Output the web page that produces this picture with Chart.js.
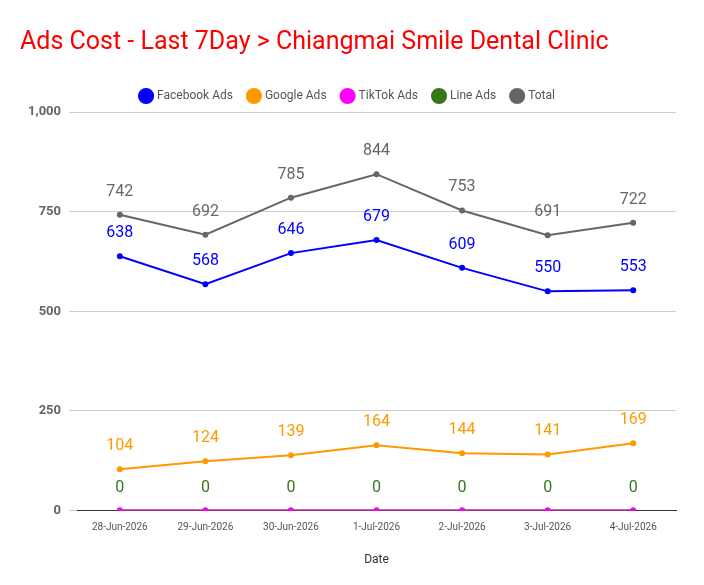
<!DOCTYPE html>
<html>
<head>
<meta charset="utf-8">
<script src="https://cdn.jsdelivr.net/npm/chart.js@4"></script>
<style>
  body { margin: 0; background: #fff; }
  #wrap { width: 704px; height: 585px; position: relative; }
</style>
</head>
<body>
<div id="wrap"><canvas id="adsChart"></canvas></div>
<script>
// Chart data
const dates = ['28-Jun-2026', '29-Jun-2026', '30-Jun-2026', '1-Jul-2026', '2-Jul-2026', '3-Jul-2026', '4-Jul-2026'];
const facebookAds = [638, 568, 646, 679, 609, 550, 553];
const googleAds = [104, 124, 139, 164, 144, 141, 169];
const tiktokAds = [0, 0, 0, 0, 0, 0, 0];
const lineAds = [0, 0, 0, 0, 0, 0, 0];
const totalCost = [742, 692, 785, 844, 753, 691, 722];
const yTicks = [0, 250, 500, 750, 1000];

// Draw value labels above points
const pointLabels = {
    id: 'pointLabels',
    afterDatasetsDraw(chart) {
        const ctx = chart.ctx;
        ctx.save();
        ctx.font = '16px Roboto';
        ctx.textAlign = 'center';
        ctx.textBaseline = 'middle';
        chart.data.datasets.forEach((ds, i) => {
            if (!ds.showLabels) return;
            const meta = chart.getDatasetMeta(i);
            ctx.fillStyle = ds.borderColor;
            meta.data.forEach((pt, j) => {
                ctx.fillText(String(ds.data[j]), pt.x, pt.y - 23);
            });
        });
        ctx.restore();
    }
};

function makeSet(label, data, color, showLabels) {
    return {
        label: label,
        data: data,
        borderColor: color,
        backgroundColor: color,
        borderWidth: 2,
        pointRadius: 2,
        pointHoverRadius: 3,
        tension: 0,
        showLabels: showLabels
    };
}

new Chart(document.getElementById('adsChart'), {
    type: 'line',
    data: {
        labels: dates,
        datasets: [
            makeSet('Facebook Ads', facebookAds, '#0000ff', true),
            makeSet('Google Ads', googleAds, '#ff9900', true),
            makeSet('TikTok Ads', tiktokAds, '#ff00ff', false),
            makeSet('Line Ads', lineAds, '#38761d', true),
            makeSet('Total', totalCost, '#666666', true)
        ]
    },
    options: {
        responsive: true,
        maintainAspectRatio: false,
        animation: false,
        layout: { padding: { left: 20, right: 28, top: 8, bottom: 14 } },
        scales: {
            x: {
                offset: true,
                grid: { display: false },
                border: { color: '#333333', width: 1 },
                ticks: { color: '#555555', font: { family: 'Roboto', size: 10 }, maxRotation: 0 },
                title: { display: true, text: 'Date', color: '#333333', font: { family: 'Roboto', size: 12 }, padding: { top: 16 } }
            },
            y: {
                min: 0,
                max: 1000,
                afterBuildTicks: axis => { axis.ticks = yTicks.map(v => ({ value: v })); },
                grid: { color: '#cccccc' },
                border: { display: false },
                ticks: { color: '#666666', font: { family: 'Roboto', size: 13, weight: 'bold' }, padding: 8 }
            }
        },
        plugins: {
            title: {
                display: true,
                text: 'Ads Cost - Last 7Day > Chiangmai Smile Dental Clinic',
                align: 'start',
                color: '#ff0000',
                font: { family: 'Roboto', size: 25, weight: 'normal' },
                padding: { top: 20, bottom: 16 }
            },
            legend: {
                position: 'top',
                labels: {
                    usePointStyle: true,
                    pointStyle: 'circle',
                    boxWidth: 10,
                    boxHeight: 10,
                    color: '#555555',
                    font: { family: 'Roboto', size: 12 },
                    padding: 16
                }
            },
            tooltip: { enabled: false }
        }
    },
    plugins: [pointLabels]
});
</script>
</body>
</html>
